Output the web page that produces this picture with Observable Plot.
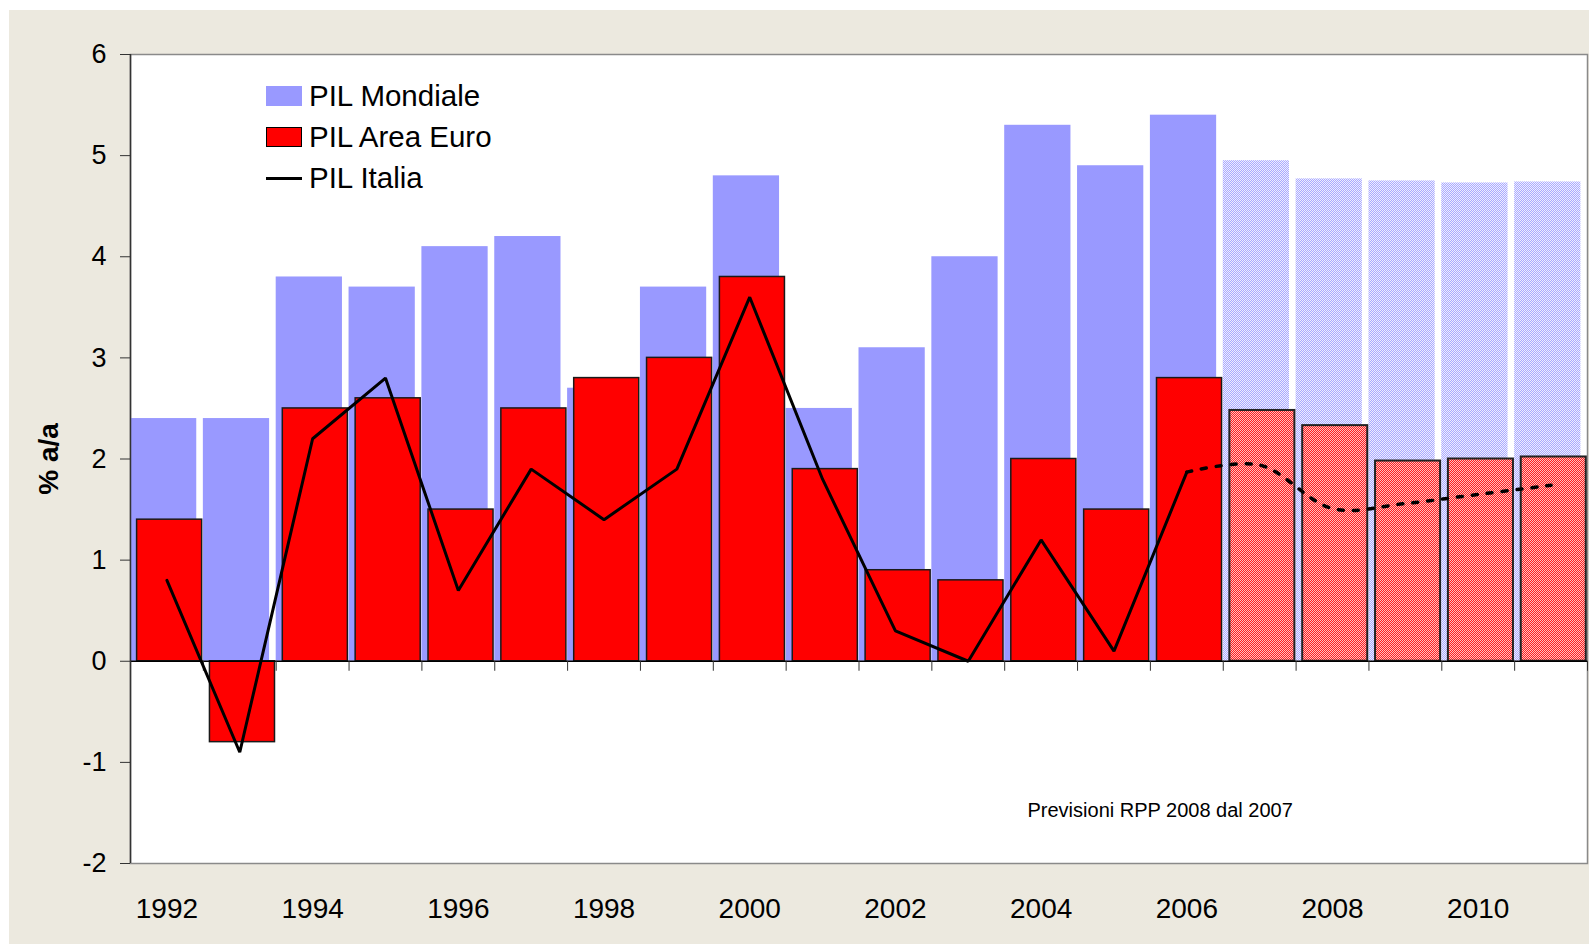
<!DOCTYPE html>
<html>
<head>
<meta charset="utf-8">
<script src="https://cdn.jsdelivr.net/npm/d3@7"></script>
<script src="https://cdn.jsdelivr.net/npm/@observablehq/plot@0.6"></script>
<style>
  html, body { margin: 0; padding: 0; background: #ffffff; }
  body { width: 1589px; height: 944px; position: relative; overflow: hidden; font-family: "Liberation Sans", Arial, sans-serif; }
  #panel { position: absolute; left: 9px; top: 10px; width: 1580px; height: 934px; background: #ECE9DF; }
  .lg { position: absolute; }
  .lgtext { position: absolute; font-size: 29.5px; color: #000; line-height: 1; white-space: nowrap; }
</style>
</head>
<body>
<div id="panel"></div>
<div class="lg" style="left:266px; top:86px; width:36px; height:20px; background:#9999FF;"></div>
<div class="lgtext" style="left:309px; top:81px;">PIL Mondiale</div>
<div class="lg" style="left:266px; top:127px; width:36px; height:20px; background:#FF0000; border:1px solid #000; box-sizing:border-box;"></div>
<div class="lgtext" style="left:309px; top:122px;">PIL Area Euro</div>
<div class="lg" style="left:266px; top:177px; width:36px; height:3px; background:#000;"></div>
<div class="lgtext" style="left:309px; top:163px;">PIL Italia</div>
<script>
// ---- data ----
const years = [1992,1993,1994,1995,1996,1997,1998,1999,2000,2001,2002,2003,2004,2005,2006,2007,2008,2009,2010,2011];
const pilMondiale = [2.4,2.4,3.8,3.7,4.1,4.2,2.7,3.7,4.8,2.5,3.1,4.0,5.3,4.9,5.4,4.95,4.77,4.75,4.73,4.74];
const pilAreaEuro = [1.4,-0.8,2.5,2.6,1.5,2.5,2.8,3.0,3.8,1.9,0.9,0.8,2.0,1.5,2.8,2.48,2.33,1.98,2.0,2.02];
const pilItalia = [0.8,-0.9,2.2,2.8,0.7,1.9,1.4,1.9,3.6,1.8,0.3,0.0,1.2,0.1,1.87,1.94,1.51,1.56,1.65,1.74];
const firstForecastYear = 2007;
const yTicks = [-2,-1,0,1,2,3,4,5,6];
const xTickLabels = [1992,1994,1996,1998,2000,2002,2004,2006,2008,2010];
const yLabel = "% a/a";
const note = "Previsioni RPP 2008 dal 2007";

const rows = years.map((year, i) => ({year, world: pilMondiale[i], euro: pilAreaEuro[i], italy: pilItalia[i]}));
const actual = rows.filter(d => d.year < firstForecastYear);
const forecast = rows.filter(d => d.year >= firstForecastYear);
const lineSolid = rows.filter(d => d.year < firstForecastYear);
const lineDashed = rows.filter(d => d.year >= firstForecastYear - 1);
const boundaries = years.map(y => y - 0.5).concat([years[years.length - 1] + 0.5]);
const xDomain = [years[0] - 0.5, years[years.length - 1] + 0.5];

const chart = Plot.plot({
  width: 1580,
  height: 934,
  marginLeft: 121,
  marginRight: 2,
  marginTop: 44,
  marginBottom: 81,
  style: {background: "transparent", fontFamily: "'Liberation Sans', Arial, sans-serif", color: "#000", overflow: "visible"},
  x: {type: "linear", domain: xDomain},
  y: {domain: [-2, 6]},
  marks: [
    Plot.frame({fill: "#ffffff", stroke: "#8a8a8a", strokeWidth: 1.5}),
    // world GDP bars
    Plot.rect(actual, {x1: d => d.year - 0.5, x2: d => d.year + 0.5, y1: 0, y2: "world", fill: "#9999FF", insetRight: 6.6}),
    Plot.rect(forecast, {x1: d => d.year - 0.5, x2: d => d.year + 0.5, y1: 0, y2: "world", fill: "url(#bluePat)", insetRight: 6.6}),
    // euro area bars
    Plot.rect(actual, {x1: d => d.year - 0.5, x2: d => d.year + 0.5, y1: 0, y2: "euro", fill: "#FF0000", stroke: "#1a1a1a", strokeWidth: 1.5, insetLeft: 6.6, insetRight: 1.2}),
    Plot.rect(forecast, {x1: d => d.year - 0.5, x2: d => d.year + 0.5, y1: 0, y2: "euro", fill: "url(#redPat)", stroke: "#222", strokeWidth: 2, insetLeft: 6.6, insetRight: 1.2}),
    // zero line and category ticks
    Plot.ruleY([0], {stroke: "#000", strokeWidth: 1.5}),
    Plot.ruleX(boundaries, {x: d => d, y1: 0, y2: 0, insetBottom: -10, stroke: "#333", strokeWidth: 1}),
    // left axis line
    Plot.ruleX([xDomain[0]], {stroke: "#333", strokeWidth: 1.5}),
    // Italy line
    Plot.line(lineSolid, {x: "year", y: "italy", stroke: "#000", strokeWidth: 3, strokeLinejoin: "miter"}),
    Plot.line(lineDashed, {x: "year", y: "italy", stroke: "#000", strokeWidth: 3.5, strokeDasharray: "5,10", curve: "catmull-rom"}),
    // axes
    Plot.axisY({ticks: yTicks, tickSize: 10, tickPadding: 14, fontSize: 27, label: null, stroke: "#333", tickFormat: d => String(d)}),
    Plot.axisX({ticks: xTickLabels, tickSize: 0, tickPadding: 35, fontSize: 28, label: null, tickFormat: d => String(d)}),
    Plot.text([yLabel], {frameAnchor: "left", dx: -81, rotate: -90, textAnchor: "middle", fontSize: 28, fontWeight: "bold", fill: "#000"}),
    Plot.text([note], {frameAnchor: "bottom-left", dx: 897, dy: -47, textAnchor: "start", fontSize: 20, fill: "#000"})
  ]
});

// patterns for forecast bars
const svg = d3.select(chart.tagName.toLowerCase() === "svg" ? chart : chart.querySelector("svg"));
const defs = svg.insert("defs", ":first-child");
const bp = defs.append("pattern").attr("id", "bluePat").attr("patternUnits", "userSpaceOnUse").attr("width", 2).attr("height", 2);
bp.append("rect").attr("width", 2).attr("height", 2).attr("fill", "#eeeeff");
bp.append("rect").attr("width", 1).attr("height", 1).attr("fill", "#aaaaff");
bp.append("rect").attr("x", 1).attr("y", 1).attr("width", 1).attr("height", 1).attr("fill", "#aaaaff");
const rp = defs.append("pattern").attr("id", "redPat").attr("patternUnits", "userSpaceOnUse").attr("width", 2).attr("height", 2);
rp.append("rect").attr("width", 2).attr("height", 2).attr("fill", "#ffc0c0");
rp.append("rect").attr("width", 1).attr("height", 1).attr("fill", "#ff2020");
rp.append("rect").attr("x", 1).attr("y", 1).attr("width", 1).attr("height", 1).attr("fill", "#ff2020");

document.getElementById("panel").appendChild(chart);
</script>
</body>
</html>
